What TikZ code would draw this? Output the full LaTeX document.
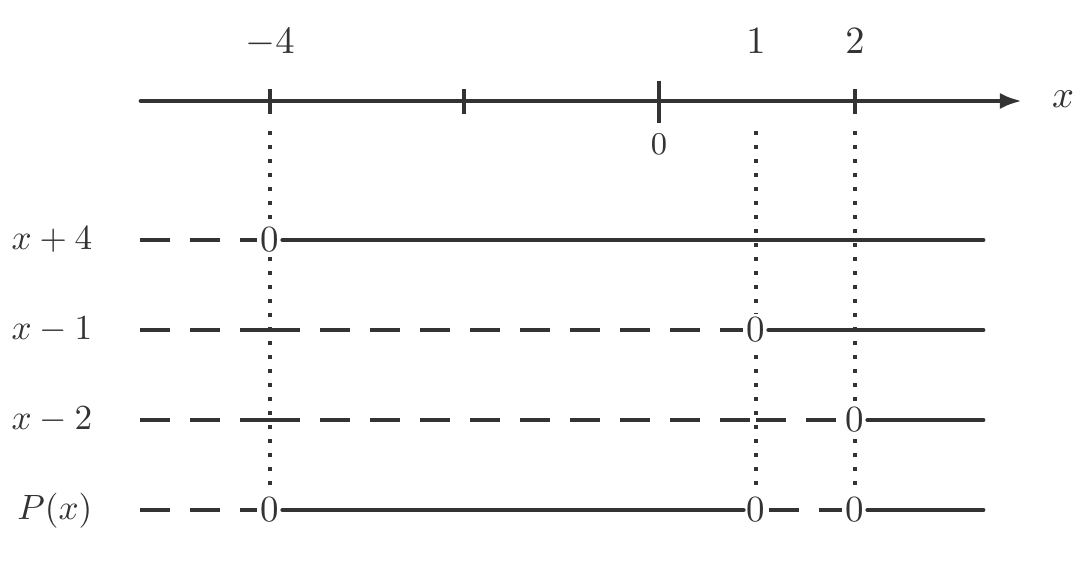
\documentclass[tikz,border=0pt]{standalone}
\usetikzlibrary{arrows.meta,backgrounds}
\definecolor{ink}{RGB}{51,51,51}
\begin{document}
\begin{tikzpicture}[x=0.01cm,y=-0.01cm,
  axisline/.style={ink, line width=1.4pt, line cap=round},
  tickmark/.style={ink, line width=1.3pt},
  negseg/.style={ink, line width=1.4pt, dash pattern=on 0.3cm off 0.2cm},
  solidseg/.style={ink, line width=1.4pt, line cap=round},
  guide/.style={ink, line width=1.15pt, dash pattern=on 1.15pt off 2.83pt},
  zero/.style={font=\fontsize{10.5}{12}\selectfont, inner sep=1pt, outer sep=0pt, fill=white, text=ink},
  lab/.style={font=\fontsize{11}{13}\selectfont, inner sep=0pt, text=ink},
  rowlab/.style={font=\fontsize{10.4}{12}\selectfont, inner sep=0pt, text=ink, anchor=base east}]
\useasboundingbox (0,0) rectangle (1088,567);

% axis
\coordinate (ax0) at (141,101);
\coordinate (ax1) at (1022,101);
\draw[axisline,-{Latex[length=6.3pt,width=4.6pt]}] (ax0) -- (ax1);
\draw[tickmark] (270,89) -- (270,114);
\draw[tickmark] (464,89) -- (464,114);
\draw[tickmark] (659,81) -- (659,123);
\draw[tickmark] (855,89) -- (855,114);
\node[lab, anchor=base] (tm4) at (270,54) {$-4$};
\node[lab, anchor=base] (t1) at (756,54) {$1$};
\node[lab, anchor=base] (t2) at (855,54) {$2$};
\node[lab, anchor=base, font=\fontsize{9}{11}\selectfont] (t0) at (659,155) {$0$};
\node[lab, anchor=base] (xl) at (1063,108) {$x$};

% row labels
\node[rowlab] (r1) at (93,249) {$x+4$};
\node[rowlab] (r2) at (93,339) {$x-1$};
\node[rowlab] (r3) at (93,429) {$x-2$};
\node[rowlab] (r4) at (93,519) {$P(x)$};

% zero nodes
\node[zero] (a0) at (270,240) {0};
\node[zero] (b1) at (756,330) {0};
\node[zero] (c2) at (855,420) {0};
\node[zero] (p0) at (270,510) {0};
\node[zero] (p1) at (756,510) {0};
\node[zero] (p2) at (855,510) {0};

% guide lines
\coordinate (g1) at (270,131);
\coordinate (g2) at (756,131);
\coordinate (g3) at (855,131);
\begin{pgfonlayer}{background}
\draw[guide] (g1) -- (p0.north);
\draw[guide] (g2) -- (p1.north);
\draw[guide] (g3) -- (p2.north);
\end{pgfonlayer}

% row coordinates
\coordinate (sa) at (140,240); \coordinate (ea) at (983,240);
\coordinate (sb) at (140,330); \coordinate (eb) at (983,330);
\coordinate (sc) at (140,420); \coordinate (ec) at (983,420);
\coordinate (sp) at (140,510); \coordinate (ep) at (983,510);
\coordinate (kb) at (270,330);
\coordinate (kc1) at (270,420);
\coordinate (kc2) at (756,420);

% row x+4
\draw[negseg] (sa) -- (a0.west);
\draw[solidseg] (a0.east) -- (ea);
% row x-1
\draw[negseg] (sb) -- (kb);
\draw[negseg] (kb) -- (b1.west);
\draw[solidseg] (b1.east) -- (eb);
% row x-2
\draw[negseg] (sc) -- (kc1);
\draw[negseg] (kc1) -- (kc2);
\draw[negseg] (kc2) -- (c2.west);
\draw[solidseg] (c2.east) -- (ec);
% row P(x)
\draw[negseg] (sp) -- (p0.west);
\draw[solidseg] (p0.east) -- (p1.west);
\draw[negseg] (p1.east) -- (p2.west);
\draw[solidseg] (p2.east) -- (ep);
\end{tikzpicture}
\end{document}
